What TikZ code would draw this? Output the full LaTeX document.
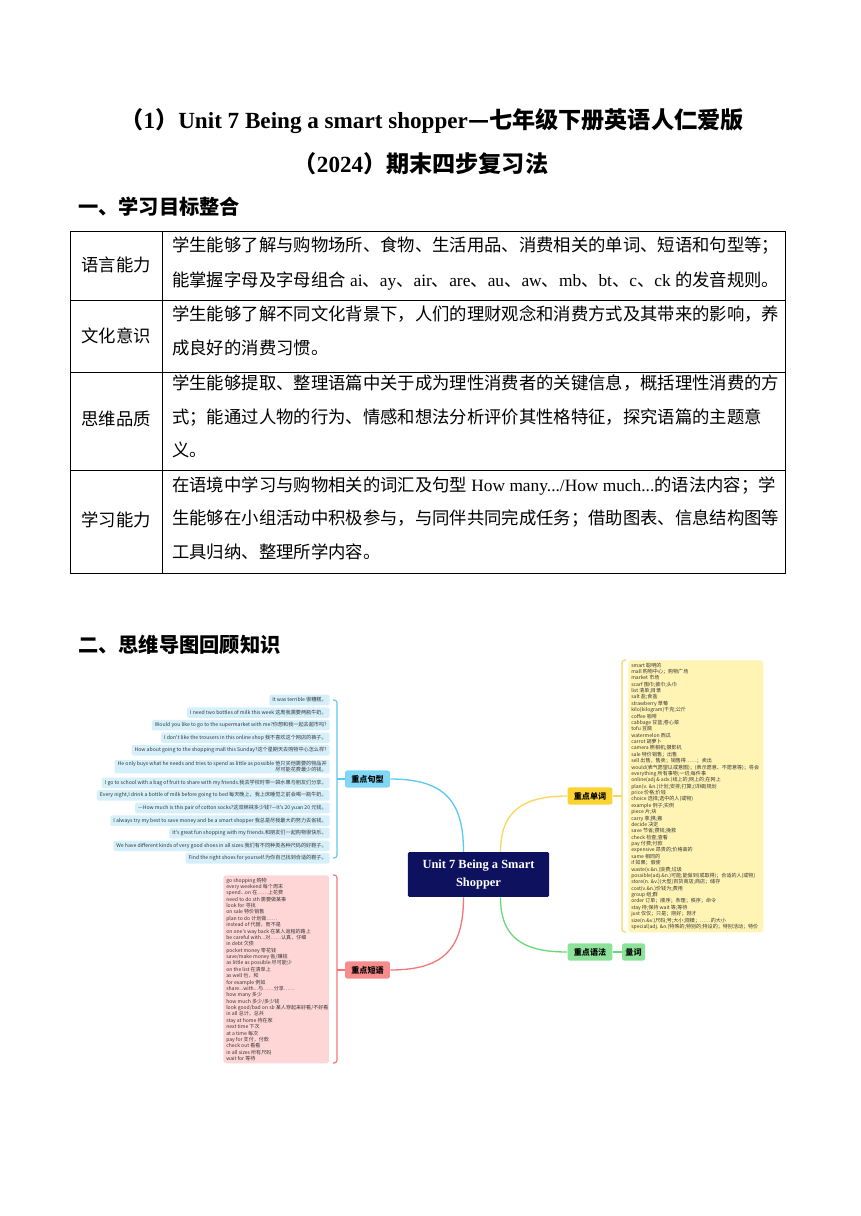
\documentclass[tikz,border=0pt]{standalone}
\usepackage{fontspec}
\usepackage{xcolor}
\setmainfont{Liberation Serif}
\newfontfamily\cjk{Noto Sans CJK SC}
\usetikzlibrary{positioning, calc}

% CJK characters get the CJK font where \mixed is on
\newXeTeXintercharclass\cjkclass
\newcount\cjkcode
\newcommand\cjkrange[2]{%
  \cjkcode=#1
  \loop
    \XeTeXcharclass\cjkcode=\cjkclass
    \ifnum\cjkcode<#2 \advance\cjkcode by 1
  \repeat}
\cjkrange{"3000}{"303F}
\cjkrange{"4E00}{"9FFF}
\cjkrange{"FF00}{"FFEF}
\cjkrange{"2014}{"2014}
\cjkrange{"2026}{"2026}
\XeTeXinterchartoks 0 \cjkclass = {\begingroup\cjk}
\XeTeXinterchartoks 4095 \cjkclass = {\begingroup\cjk}
\XeTeXinterchartoks \cjkclass 0 = {\endgroup}
\XeTeXinterchartoks \cjkclass 4095 = {\endgroup}
\newcommand\mixed{\XeTeXinterchartokenstate=1 }

\definecolor{navy}{RGB}{14, 17, 94}
\definecolor{skyline}{RGB}{92, 200, 238}
\definecolor{skynode}{RGB}{128, 214, 245}
\definecolor{skylite}{RGB}{214, 240, 251}
\definecolor{roseline}{RGB}{245, 118, 118}
\definecolor{rosenode}{RGB}{248, 140, 140}
\definecolor{roselite}{RGB}{255, 214, 214}
\definecolor{amberline}{RGB}{250, 214, 90}
\definecolor{ambernode}{RGB}{250, 210, 50}
\definecolor{amberlite}{RGB}{255, 244, 180}
\definecolor{mintline}{RGB}{105, 216, 120}
\definecolor{mintnode}{RGB}{140, 226, 152}
\definecolor{inkgray}{RGB}{55, 55, 55}

\begin{document}
\begin{tikzpicture}[x=0.6919pt, y=-0.6919pt,
  titletxt/.style={font=\mixed\fontsize{16pt}{19pt}\selectfont\bfseries, inner sep=0},
  secthead/.style={font=\mixed\fontsize{14pt}{17pt}\selectfont\bfseries,
    anchor=west, inner sep=0},
  cell/.style={font=\mixed\fontsize{12pt}{14pt}\selectfont,
    anchor=base west, inner sep=0},
  rowlbl/.style={font=\mixed\fontsize{12pt}{14pt}\selectfont, inner sep=0},
  topic/.style={rectangle, rounded corners=1.5pt,
    font=\cjk\fontsize{5.6pt}{6pt}\selectfont\bfseries,
    minimum width=31.1pt, minimum height=11.8pt, inner sep=1pt},
  sent/.style={rectangle, rounded corners=1pt, fill=skylite, anchor=east,
    font=\cjk\fontsize{3.55pt}{4.4pt}\selectfont, text=inkgray,
    inner xsep=2.1pt, inner ysep=0.8pt, minimum height=7.3pt},
  listbox/.style={rectangle, rounded corners=2pt, anchor=north west},
  listtxt/.style={anchor=north west, align=left, inner sep=0,
    font=\cjk\fontsize{3.5pt}{4.41pt}\selectfont, text=inkgray},
  branch/.style={line width=0.9pt},
  bracketln/.style={line width=0.8pt, rounded corners=2pt}
]
\useasboundingbox (0,0) rectangle (860,1216);
\fill[white] (0,0) rectangle (860,1216);

% title and headings
\node[titletxt] (t1) at (432,121) {（1）Unit 7 Being a smart shopper—七年级下册英语人仁爱版};
\node[titletxt] (t2) at (421,164) {（2024）期末四步复习法};
\node[secthead] (h1) at (78,207) {一、学习目标整合};

% table
\draw[line width=0.5pt] (70,231) rectangle (785,573);
\draw[line width=0.5pt] (162,231) -- (162,573);
\draw[line width=0.5pt] (70,300) -- (785,300);
\draw[line width=0.5pt] (70,372) -- (785,372);
\draw[line width=0.5pt] (70,470) -- (785,470);

\node[rowlbl] (lang) at (116,265) {语言能力};
\node[cell] (lang1) at (172,251.6) {学生能够了解与购物场所、食物、生活用品、消费相关的单词、短语和句型等；};
\node[cell] (lang2) at (172,286.6) {能掌握字母及字母组合 ai、ay、air、are、au、aw、mb、bt、c、ck 的发音规则。};

\node[rowlbl] (cult) at (116,336) {文化意识};
\node[cell] (cult1) at (172,320.6) {学生能够了解不同文化背景下，人们的理财观念和消费方式及其带来的影响，养};
\node[cell] (cult2) at (172,354.6) {成良好的消费习惯。};

\node[rowlbl] (think) at (116,419) {思维品质};
\node[cell] (think1) at (172,389.6) {学生能够提取、整理语篇中关于成为理性消费者的关键信息，概括理性消费的方};
\node[cell] (think2) at (172,423.6) {式；能通过人物的行为、情感和想法分析评价其性格特征，探究语篇的主题意};
\node[cell] (think3) at (172,456.6) {义。};

\node[rowlbl] (learn) at (116,520) {学习能力};
\node[cell] (learn1) at (172,491.6) {在语境中学习与购物相关的词汇及句型 How many.../How much...的语法内容；学};
\node[cell] (learn2) at (172,524.6) {生能够在小组活动中积极参与，与同伴共同完成任务；借助图表、信息结构图等};
\node[cell] (learn3) at (172,558.6) {工具归纳、整理所学内容。};

\node[secthead] (h2) at (78,645) {二、思维导图回顾知识};

% mind map: centre and topics
\node[fill=navy, text=white, rounded corners=1pt, align=center,
      minimum width=97.6pt, minimum height=31.1pt,
      font=\fontsize{8.6pt}{11.8pt}\selectfont\bfseries]
  (unit) at (478.5,874.5) {Unit 7 Being a Smart\\Shopper};

\node[topic, fill=skynode]   (jx) at (367.5,779) {重点句型};
\node[topic, fill=rosenode]  (dy) at (367.5,970) {重点短语};
\node[topic, fill=ambernode] (dc) at (590,796)   {重点单词};
\node[topic, fill=mintnode]  (yf) at (590,952)   {重点语法};
\node[topic, fill=mintnode, minimum width=15.9pt, right=6.2pt of yf] (lc) {量词};

\draw[branch, skyline]   ($(unit.north)+(-15,0)$) .. controls +(0,-50) and +(55,0) .. (jx.east);
\draw[branch, roseline]  ($(unit.south)+(-15,0)$) .. controls +(0,50) and +(55,0) .. (dy.east);
\draw[branch, amberline] ($(unit.north)+(22,0)$) .. controls +(0,-40) and +(-45,0) .. (dc.west);
\draw[branch, mintline]  ($(unit.south)+(22,0)$) .. controls +(0,40) and +(-45,0) .. (yf.west);
\draw[branch, mintline]  (yf) -- (lc);

% brackets
\draw[bracketln, skyline] (333,700) -- (337,700) -- (337,858) -- (333,858);
\coordinate (jxtip) at (337,779);
\draw[line width=0.8pt, skyline] (jxtip) -- (jx.west);
\draw[bracketln, roseline] (333,875) -- (337,875) -- (337,1063) -- (333,1063);
\coordinate (dytip) at (337,970);
\draw[line width=0.8pt, roseline] (dytip) -- (dy.west);
\draw[bracketln, amberline] (626,660) -- (622,660) -- (622,932) -- (626,932);
\coordinate (dctip) at (622,796);
\draw[line width=0.8pt, amberline] (dc.east) -- (dctip);

% key sentences
\node[sent] (jx1)  at (330,700)   {It was terrible 很糟糕。};
\node[sent] (jx2)  at (330,712.6) {I need two bottles of milk this week 这周我需要两瓶牛奶。};
\node[sent] (jx3)  at (330,725.2) {Would you like to go to the supermarket with me?你想和我一起去超市吗?};
\node[sent] (jx4)  at (330,737.8) {I don't like the trousers in this online shop 我不喜欢这个网店的裤子。};
\node[sent] (jx5)  at (330,750.4) {How about going to the shopping mall this Sunday?这个星期天去购物中心怎么样?};
\node[sent, align=right] (jx6) at (330,766.6) {He only buys what he needs and tries to spend as little as possible 他只买他需要的物品并\\尽可能花费最少的钱。};
\node[sent] (jx7)  at (330,782.8) {I go to school with a bag of fruit to share with my friends.我去学校时带一袋水果与朋友们分享。};
\node[sent] (jx8)  at (330,795.4) {Every night,I drink a bottle of milk before going to bed 每天晚上，我上床睡觉之前会喝一瓶牛奶。};
\node[sent] (jx9)  at (330,808)   {—How much is this pair of cotton socks?这双棉袜多少钱?—It's 20 yuan 20 元钱。};
\node[sent] (jx10) at (330,820.6) {I always try my best to save money and be a smart shopper 我总是尽我最大的努力去省钱。};
\node[sent] (jx11) at (330,833.2) {It's great fun shopping with my friends.和朋友们一起购物很快乐。};
\node[sent] (jx12) at (330,845.8) {We have different kinds of very good shoes in all sizes.我们有不同种类各种尺码的好鞋子。};
\node[sent] (jx13) at (330,858.4) {Find the right shoes for yourself.为你自己找到合适的鞋子。};

% key phrases
\node[listbox, fill=roselite, minimum width=73.3pt, minimum height=130.1pt] (dybox) at (223,875) {};
\node[listtxt] (dylist) at (226,877.5) {go shopping 购物\\
every weekend 每个周末\\
spend...on 在……上花费\\
need to do sth 需要做某事\\
look for 寻找\\
on sale 特价销售\\
plan to do 计划做……\\
instead of 代替，而不是\\
on one's way back 在某人返程的路上\\
be careful with...对……认真，仔细\\
in debt 欠债\\
pocket money 零花钱\\
save/make money 省/赚钱\\
as little as possible 尽可能少\\
on the list 在清单上\\
as well 也，和\\
for example 例如\\
share...with...与……分享……\\
how many 多少\\
how much 多少/多少钱\\
look good/bad on sb 某人穿起来好看/不好看\\
in all 总计，总共\\
stay at home 待在家\\
next time 下次\\
at a time 每次\\
pay for 支付，付款\\
check out 看看\\
in all sizes 所有尺码\\
wait for 等待};

% key words
\node[listbox, fill=amberlite, minimum width=93.4pt, minimum height=188.2pt] (dcbox) at (628,660) {};
\node[listtxt] (dclist) at (631,662.5) {smart 聪明的\\
mall 购物中心；购物广场\\
market 市场\\
scarf 围巾;披巾;头巾\\
list 清单;目录\\
salt 盐;食盐\\
strawberry 草莓\\
kilo(kilogram)千克;公斤\\
coffee 咖啡\\
cabbage 甘蓝;卷心菜\\
tofu 豆腐\\
watermelon 西瓜\\
carrot 胡萝卜\\
camera 照相机;摄影机\\
sale 特价销售；出售\\
sell 出售，售卖；销售得……；卖出\\
would(表气愿望以或意图)；(表示愿意、不愿意等)；将会\\
everything 所有事物;一切;每件事\\
online(adj \& adv.)线上的;网上的;在网上\\
plan(v. \&n.)计划;安排;打算;(详细)规划\\
price 价格;价钱\\
choice 选择;选中的人(或物)\\
example 例子;实例\\
piece 片;块\\
carry 拿;携;搬\\
decide 决定\\
save 节省;攒钱;挽救\\
check 检查;查看\\
pay 付费;付款\\
expensive 昂贵的;价格高的\\
same 相同的\\
if 如果；假使\\
waste(v.\&n.)浪费;垃圾\\
possible(adj.\&n.)可能;能做到(或取得)；合适的人(或物)\\
store(n. \&v.)(大型)百货商店;商店；储存\\
cost(v.\&n.)价钱为;费用\\
group 组;群\\
order 订单；顺序；条理；秩序；命令\\
stay 待;保持 wait 等;等待\\
just 仅仅；只是；刚好；刚才\\
size(n.\&v.)尺码;号;大小;规模；……的大小\\
special(adj. \&n.)特殊的;特别的;特设的；特别活动；特价};
\end{tikzpicture}
\end{document}
